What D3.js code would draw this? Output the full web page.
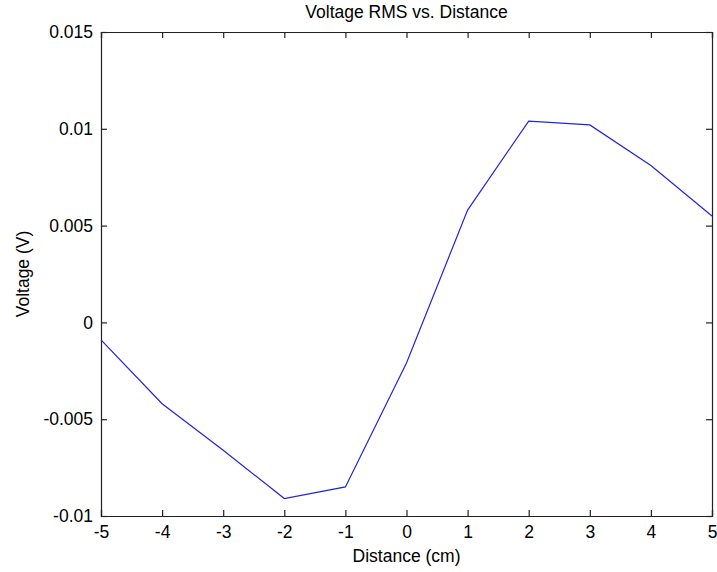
<!DOCTYPE html>
<html>
<head>
<meta charset="utf-8">
<script src="https://cdn.jsdelivr.net/npm/d3@7/dist/d3.min.js"></script>
<style>
  html, body { margin: 0; padding: 0; background: #fff; }
  svg { display: block; }
  text { font-family: "Liberation Sans", Arial, sans-serif; fill: #000; }
</style>
</head>
<body>
<svg id="chart" width="717" height="572"></svg>
<script>
const distance = [-5, -4, -3, -2, -1, 0, 1, 2, 3, 4, 5];
const voltage = [-0.0009, -0.0042, -0.0066, -0.0091, -0.0085, -0.0021, 0.0058, 0.0104, 0.0102, 0.0081, 0.0055];
const xTicks = [-5, -4, -3, -2, -1, 0, 1, 2, 3, 4, 5];
const xTickLabels = ["-5", "-4", "-3", "-2", "-1", "0", "1", "2", "3", "4", "5"];
const yTicks = [-0.01, -0.005, 0, 0.005, 0.01, 0.015];
const yTickLabels = ["-0.01", "-0.005", "0", "0.005", "0.01", "0.015"];
const titleText = "Voltage RMS vs. Distance";
const xLabelText = "Distance (cm)";
const yLabelText = "Voltage (V)";

const W = 717, H = 572;
const m = { left: 101, right: W - 712, top: 32, bottom: H - 516 };
const svg = d3.select("#chart");
const iw = W - m.left - m.right, ih = H - m.top - m.bottom;
const g = svg.append("g").attr("transform", `translate(${m.left},${m.top})`);

const x = d3.scaleLinear().domain([-5, 5]).range([0, iw]);
const y = d3.scaleLinear().domain([-0.01, 0.015]).range([ih, 0]);
const fs = 17.5;
const tickLen = 6;

const xb = g.append("g").attr("transform", `translate(0,${ih})`)
  .call(d3.axisBottom(x).tickValues(xTicks).tickSize(-tickLen).tickPadding(10)
    .tickFormat((d, i) => xTickLabels[i]));
const xt = g.append("g")
  .call(d3.axisTop(x).tickValues(xTicks).tickSize(-tickLen).tickFormat(""));
const yl = g.append("g")
  .call(d3.axisLeft(y).tickValues(yTicks).tickSize(-tickLen).tickPadding(8)
    .tickFormat((d, i) => yTickLabels[i]));
const yr = g.append("g").attr("transform", `translate(${iw},0)`)
  .call(d3.axisRight(y).tickValues(yTicks).tickSize(-tickLen).tickFormat(""));

[xb, xt, yl, yr].forEach(a => {
  a.select(".domain").attr("stroke", "#222").attr("stroke-width", 1.2);
  a.selectAll(".tick line").attr("stroke", "#222").attr("stroke-width", 1.2);
  a.selectAll(".tick text").attr("font-size", fs).attr("font-family", "Liberation Sans, Arial, sans-serif").attr("fill", "#000");
});

const line = d3.line().x((d, i) => x(distance[i])).y(d => y(d));
g.append("path").datum(voltage)
  .attr("fill", "none").attr("stroke", "#2424d6").attr("stroke-width", 1.2)
  .attr("d", line);

svg.append("text").attr("x", m.left + iw / 2).attr("y", 18)
  .attr("text-anchor", "middle").attr("font-size", fs).text(titleText);
svg.append("text").attr("x", m.left + iw / 2).attr("y", 562)
  .attr("text-anchor", "middle").attr("font-size", fs).text(xLabelText);
svg.append("text").attr("transform", `translate(29,${m.top + ih / 2}) rotate(-90)`)
  .attr("text-anchor", "middle").attr("font-size", fs).text(yLabelText);
</script>
</body>
</html>
